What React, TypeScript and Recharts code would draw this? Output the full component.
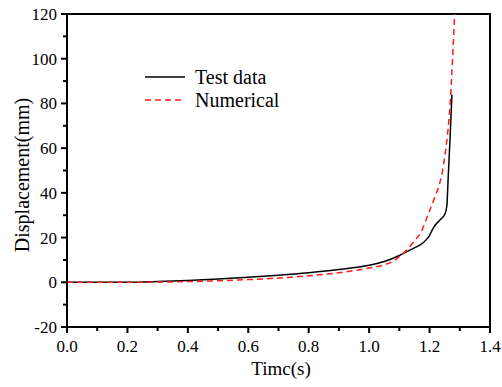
import React from 'react';
import { LineChart, Line, XAxis, YAxis, ReferenceArea } from 'recharts';

// Test data (black solid)
const testTime = [0, 0.1, 0.2, 0.3, 0.4, 0.5, 0.6, 0.7, 0.8, 0.9, 1.0, 1.05, 1.1, 1.125, 1.15, 1.17, 1.19, 1.2, 1.213, 1.235, 1.25, 1.257, 1.262, 1.268, 1.274];
const testDisp = [0, 0, 0, 0.3, 0.8, 1.5, 2.3, 3.2, 4.3, 5.7, 7.6, 9.3, 12.0, 13.7, 15.4, 16.8, 19.2, 21.0, 24.5, 28.0, 30.3, 34.0, 48.0, 65.0, 84.0];

// Numerical (red dashed)
const numTime = [0, 0.1, 0.2, 0.3, 0.4, 0.5, 0.6, 0.7, 0.8, 0.9, 1.0, 1.05, 1.08, 1.1, 1.125, 1.15, 1.17, 1.2, 1.22, 1.235, 1.25, 1.268, 1.283];
const numDisp = [0, 0, 0, 0.1, 0.3, 0.7, 1.2, 1.9, 2.9, 4.3, 6.4, 7.8, 9.5, 11.5, 14.5, 18.5, 22.0, 32.0, 39.0, 45.0, 56.0, 80.0, 120.0];

const xTicks = [0, 0.1, 0.2, 0.3, 0.4, 0.5, 0.6, 0.7, 0.8, 0.9, 1.0, 1.1, 1.2, 1.3, 1.4];
const xTickLabels = ['0.0', '', '0.2', '', '0.4', '', '0.6', '', '0.8', '', '1.0', '', '1.2', '', '1.4'];
const yTicks = [-20, -10, 0, 10, 20, 30, 40, 50, 60, 70, 80, 90, 100, 110, 120];
const yTickLabels = ['-20', '', '0', '', '20', '', '40', '', '60', '', '80', '', '100', '', '120'];

const seriesNames = ['Test data', 'Numerical'];

const testData = testTime.map((t, i) => ({ t, v: testDisp[i] }));
const numData = numTime.map((t, i) => ({ t, v: numDisp[i] }));

const FONT = "'Liberation Serif', 'Times New Roman', serif";
const RED = '#ff1a1a';

const renderXTick = (props: any) => {
  const { x, y, index } = props;
  const label = xTickLabels[index];
  const major = label !== '';
  return (
    <g key={`xt-${index}`}>
      <line x1={x} x2={x} y1={y} y2={y + (major ? 6 : 4)} stroke="#000" strokeWidth={2} />
      {major && (
        <text x={x} y={y + 25} textAnchor="middle" style={{ fontFamily: FONT, fontSize: 17 }} fill="#000">
          {label}
        </text>
      )}
    </g>
  );
};

const renderYTick = (props: any) => {
  const { x, y, index } = props;
  const label = yTickLabels[index];
  const major = label !== '';
  return (
    <g key={`yt-${index}`}>
      <line x1={x} x2={x - (major ? 6 : 4)} y1={y} y2={y} stroke="#000" strokeWidth={2} />
      {major && (
        <text x={x - 10} y={y + 6} textAnchor="end" style={{ fontFamily: FONT, fontSize: 17 }} fill="#000">
          {label}
        </text>
      )}
    </g>
  );
};

const LegendBox = () => (
  <svg width={170} height={50} style={{ position: 'absolute', left: 140, top: 62 }}>
    <line x1={5} x2={45} y1={15} y2={15} stroke="#000" strokeWidth={1.5} />
    <text x={55} y={22} style={{ fontFamily: FONT, fontSize: 20 }} fill="#000">{seriesNames[0]}</text>
    <line x1={5} x2={45} y1={38} y2={38} stroke={RED} strokeWidth={1.5} strokeDasharray="6 4" />
    <text x={55} y={45} style={{ fontFamily: FONT, fontSize: 20 }} fill="#000">{seriesNames[1]}</text>
  </svg>
);

export default function App() {
  return (
    <div style={{ position: 'absolute', left: 0, top: 0, width: 502, height: 387, background: '#fff' }}>
      <LineChart width={502} height={387} margin={{ top: 14, right: 12, bottom: 0, left: 0 }}>
        <XAxis
          dataKey="t"
          type="number"
          domain={[0, 1.4]}
          ticks={xTicks}
          interval={0}
          allowDataOverflow
          height={60}
          tickSize={0}
          tickMargin={0}
          tickLine={false}
          axisLine={{ stroke: '#000', strokeWidth: 2 }}
          tick={renderXTick}
          label={{
            content: () => (
              <text x={281} y={375} textAnchor="middle" style={{ fontFamily: FONT, fontSize: 19 }} fill="#000">
                Timc(s)
              </text>
            ),
          }}
        />
        <YAxis
          dataKey="v"
          type="number"
          domain={[-20, 120]}
          ticks={yTicks}
          interval={0}
          allowDataOverflow
          width={67}
          tickSize={0}
          tickMargin={0}
          tickLine={false}
          axisLine={{ stroke: '#000', strokeWidth: 2 }}
          tick={renderYTick}
          label={{
            content: () => (
              <text
                x={22}
                y={175}
                transform="rotate(-90 22 175)"
                textAnchor="middle"
                dominantBaseline="central"
                style={{ fontFamily: FONT, fontSize: 20 }}
                fill="#000"
              >
                Displacement(mm)
              </text>
            ),
          }}
        />
        <ReferenceArea x1={0} x2={1.4} y1={-20} y2={120} fill="none" stroke="#000" strokeWidth={2} fillOpacity={0} />
        <Line
          data={testData}
          dataKey="v"
          name={seriesNames[0]}
          type="monotone"
          stroke="#000"
          strokeWidth={1.5}
          dot={false}
          isAnimationActive={false}
        />
        <Line
          data={numData}
          dataKey="v"
          name={seriesNames[1]}
          type="monotone"
          stroke={RED}
          strokeWidth={1.5}
          strokeDasharray="6 4"
          dot={false}
          isAnimationActive={false}
        />
      </LineChart>
      <LegendBox />
    </div>
  );
}
